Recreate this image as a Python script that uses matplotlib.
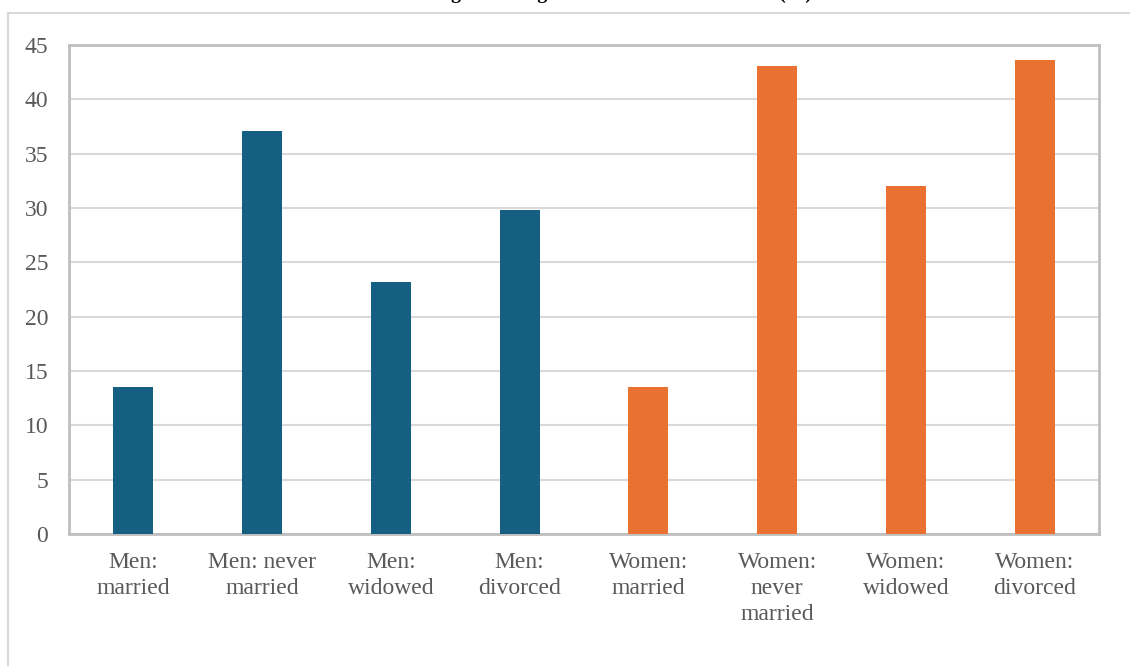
import matplotlib.pyplot as plt
from matplotlib.patches import Rectangle

categories = ["Men:\nmarried", "Men: never\nmarried", "Men:\nwidowed", "Men:\ndivorced",
              "Women:\nmarried", "Women:\nnever\nmarried", "Women:\nwidowed", "Women:\ndivorced"]
values = [13.5, 37.1, 23.2, 29.8, 13.5, 43.1, 32.0, 43.6]
groups = ["Men", "Men", "Men", "Men", "Women", "Women", "Women", "Women"]
title = "Percentage drinking above recommended limits (%)"

colors = {"Men": "#156082", "Women": "#E97132"}

plt.rcParams["font.family"] = ["Liberation Serif", "DejaVu Serif"]

fig = plt.figure(figsize=(11.3, 6.66), dpi=100)
W, H = 1130, 666

# outer chart frame, cut off on the right and bottom
fig.patches.append(Rectangle((7.5 / W, -0.1), 1.2, 1.1 - 13.5 / H, transform=fig.transFigure,
                             fill=False, edgecolor="#D9D9D9", linewidth=1.5))

ax = fig.add_axes([69 / W, (H - 534) / H, (1099 - 69) / W, (534 - 45) / H])
x = list(range(len(categories)))
ax.bar(x, values, width=0.31, color=[colors[g] for g in groups], zorder=3)

ax.set_ylim(0, 45)
ax.set_xlim(-0.5, len(categories) - 0.5)
ax.set_yticks(range(0, 46, 5))
ax.set_xticks(x)
ax.set_xticklabels(categories, linespacing=1.3)
ax.tick_params(axis="both", length=0, labelsize=17, labelcolor="#595959")
ax.tick_params(axis="x", pad=13)
ax.tick_params(axis="y", pad=15)
ax.grid(axis="y", color="#D9D9D9", linewidth=1.5, zorder=0)
for s in ax.spines.values():
    s.set_color("#BFBFBF")
    s.set_linewidth(2)

# title sits mostly above the visible area, as in the source
fig.text(812 / W, 1 + 1 / H, title, ha="right", va="baseline",
         fontsize=14, fontweight="bold", color="#000000")

fig.savefig("out.png", dpi=100)
